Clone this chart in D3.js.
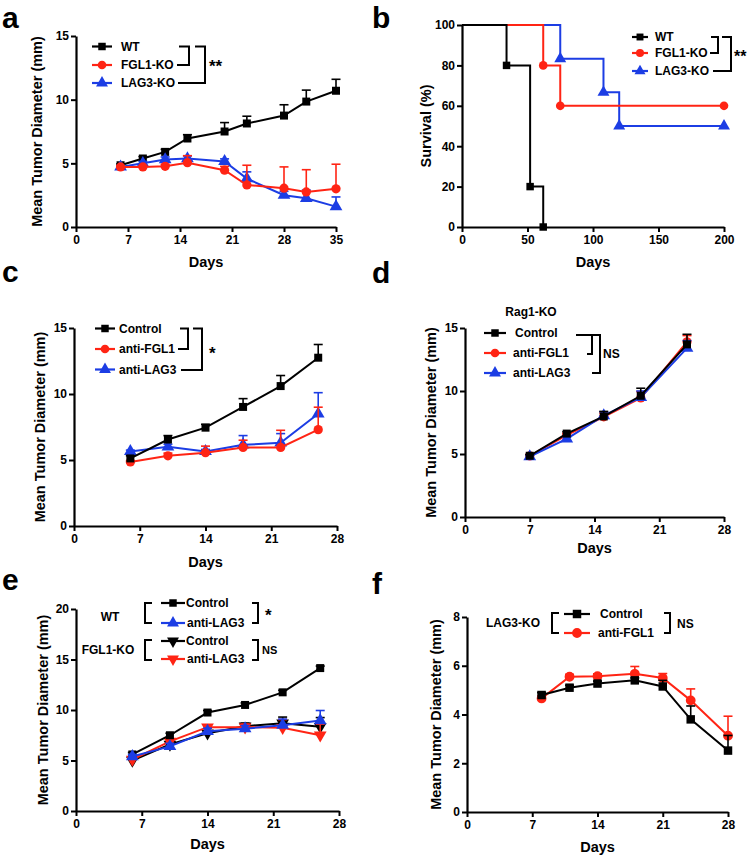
<!DOCTYPE html>
<html><head><meta charset="utf-8">
<script src="https://cdn.jsdelivr.net/npm/d3@7"></script>
<style>
body{margin:0;background:#fff}
svg{display:block}
text{font-family:'Liberation Sans',Arial,Helvetica,sans-serif;font-weight:bold;fill:#000}
</style></head>
<body><svg id="fig" width="750" height="856"></svg>
<script>
// ---------- DATA ----------
// Panel a
const aDays = [6, 9, 12, 15, 20, 23, 28, 31, 35];
const aWT = [4.85, 5.38, 5.9, 6.95, 7.5, 8.13, 8.75, 9.85, 10.7];
const aWTErr = [0.1, 0.15, 0.2, 0.3, 0.7, 0.57, 0.85, 0.9, 0.9];
const aFGL1 = [4.72, 4.72, 4.77, 5.05, 4.46, 3.3, 3.05, 2.75, 3.0];
const aFGL1Err = [0.1, 0.1, 0.15, 0.55, 0.3, 1.55, 1.67, 1.75, 1.93];
const aLAG3 = [4.72, 5.0, 5.3, 5.38, 5.15, 3.8, 2.5, 2.25, 1.6];
const aLAG3Err = [0.1, 0.15, 0.2, 0.2, 0.2, 0.53, 0.3, 0.65, 0.76];
const aLabels = ["WT", "FGL1-KO", "LAG3-KO"];
// Panel b (survival)
const bWTTimes = [0, 34, 52, 62];
const bWT = [100, 80, 20, 0];
const bFGL1Times = [0, 62, 75, 200];
const bFGL1 = [100, 80, 60, 60];
const bLAG3Times = [0, 75, 108, 120, 200];
const bLAG3 = [100, 83.3, 66.7, 50, 50];
// Panel c
const cDays = [6, 10, 14, 18, 22, 26];
const cControl = [5.12, 6.55, 7.45, 9.02, 10.6, 12.75];
const cControlErr = [0.2, 0.3, 0.25, 0.63, 0.8, 1.0];
const cFGL1 = [4.85, 5.32, 5.55, 5.95, 5.95, 7.3];
const cFGL1Err = [0.1, 0.2, 0.5, 0.55, 1.3, 1.7];
const cLAG3 = [5.65, 6.0, 5.65, 6.15, 6.3, 8.5];
const cLAG3Err = [0.1, 0.2, 0.15, 0.7, 0.7, 1.6];
const cLabels = ["Control", "anti-FGL1", "anti-LAG3"];
// Panel d
const dDays = [7, 11, 15, 19, 24];
const dControl = [4.86, 6.62, 7.98, 9.62, 13.7];
const dControlErr = [0.1, 0.15, 0.4, 0.6, 0.8];
const dFGL1 = [4.85, 6.5, 7.95, 9.45, 13.9];
const dFGL1Err = [0.1, 0.15, 0.3, 0.5, 0.5];
const dLAG3 = [4.8, 6.2, 8.05, 9.5, 13.4];
const dLAG3Err = [0.1, 0.15, 0.3, 0.5, 0.6];
// Panel e
const eDays = [6, 10, 14, 18, 22, 26];
const eWTControl = [5.6, 7.5, 9.75, 10.5, 11.75, 14.15];
const eWTControlErr = [0.2, 0.2, 0.2, 0.2, 0.2, 0.2];
const eWTLAG3 = [5.4, 6.4, 7.9, 8.15, 8.5, 8.95];
const eWTLAG3Err = [0.2, 0.3, 0.3, 0.3, 0.6, 1.0];
const eKOControl = [5.0, 6.6, 7.7, 8.4, 8.7, 8.35];
const eKOControlErr = [0.2, 0.2, 0.2, 0.3, 0.6, 0.9];
const eKOLAG3 = [5.1, 6.9, 8.3, 8.3, 8.25, 7.5];
const eKOLAG3Err = [0.2, 0.2, 0.2, 0.3, 0.8, 1.1];
// Panel f
const fDays = [8, 11, 14, 18, 21, 24, 28];
const fControl = [4.8, 5.1, 5.27, 5.4, 5.15, 3.8, 2.52];
const fControlErr = [0.1, 0.1, 0.1, 0.1, 0.25, 0.55, 0.62];
const fFGL1 = [4.66, 5.55, 5.57, 5.67, 5.5, 4.58, 3.13];
const fFGL1Err = [0.1, 0.1, 0.1, 0.3, 0.18, 0.47, 0.8];
// Ticks
const ticksDay28 = [0, 7, 14, 21, 28];
const ticksDay35 = [0, 7, 14, 21, 28, 35];
const ticksSurvDays = [0, 50, 100, 150, 200];
const ticksSurv = [0, 20, 40, 60, 80, 100];
const ticks15 = [0, 5, 10, 15];
const ticks20 = [0, 5, 10, 15, 20];
const ticks8 = [0, 2, 4, 6, 8];

// ---------- STYLE ----------
const BLACK = "#000000", RED = "#ff2414", BLUE = "#1c3de4";
const svg = d3.select("#fig");

function marker(sel, shape, color, size) {
  const s = size || 64;
  let type = d3.symbolSquare, rot = 0, sz = s;
  if (shape === "circle") { type = d3.symbolCircle; sz = s * 1.05; }
  if (shape === "tri") { type = d3.symbolTriangle; sz = s * 1.1; }
  if (shape === "down") { type = d3.symbolTriangle; sz = s * 1.1; rot = 180; }
  return sel.attr("d", d3.symbol(type, sz)()).attr("fill", color)
    .attr("data-rot", rot);
}

function drawPanel(o) {
  const g = svg.append("g");
  const x = d3.scaleLinear().domain(o.xd).range([o.L, o.R]);
  const y = d3.scaleLinear().domain(o.yd).range([o.B, o.T]);
  const xa = g.append("g").attr("transform", `translate(0,${o.B})`)
    .call(d3.axisBottom(x).tickValues(o.xt).tickSize(5).tickSizeOuter(0).tickPadding(3));
  const ya = g.append("g").attr("transform", `translate(${o.L},0)`)
    .call(d3.axisLeft(y).tickValues(o.yt).tickSize(5).tickSizeOuter(0).tickPadding(2));
  [xa, ya].forEach(a => {
    a.select(".domain").attr("stroke-width", 2.2).attr("stroke", "#000");
    a.selectAll(".tick line").attr("stroke-width", 2).attr("stroke", "#000");
    a.selectAll("text").attr("font-size", 12).attr("font-weight", "bold")
      .attr("font-family", "'Liberation Sans',Arial,sans-serif").attr("fill", "#000");
  });
  g.append("text").attr("transform", `translate(${o.ylx},${(o.T + o.B) / 2}) rotate(-90)`)
    .attr("text-anchor", "middle").attr("font-size", 14.5).text(o.ylab);
  g.append("text").attr("x", (o.L + o.R) / 2).attr("y", o.xly)
    .attr("text-anchor", "middle").attr("font-size", 14.5).text("Days");
  g.append("text").attr("x", o.lx).attr("y", o.ly).attr("font-size", 30).text(o.letter);
  return { g, x, y };
}

function series(p, days, vals, errs, color, shape, msize) {
  const pts = days.map((d, i) => ({ d, v: vals[i], e: errs ? errs[i] : 0 }));
  const g = p.g.append("g");
  g.append("path").datum(pts).attr("fill", "none").attr("stroke", color).attr("stroke-width", 2)
    .attr("d", d3.line().x(q => p.x(q.d)).y(q => p.y(q.v)));
  if (errs) {
    pts.forEach(q => {
      const xx = p.x(q.d), y0 = p.y(q.v), y1 = p.y(q.v + q.e);
      g.append("line").attr("x1", xx).attr("x2", xx).attr("y1", y0).attr("y2", y1)
        .attr("stroke", color).attr("stroke-width", 1.6);
      g.append("line").attr("x1", xx - 4.5).attr("x2", xx + 4.5).attr("y1", y1).attr("y2", y1)
        .attr("stroke", color).attr("stroke-width", 1.6);
    });
  }
  pts.forEach(q => {
    const m = g.append("path");
    marker(m, shape, color, msize);
    m.attr("transform", `translate(${p.x(q.d)},${p.y(q.v)}) rotate(${m.attr("data-rot")})`);
  });
}

function survival(p, times, vals, color, shape) {
  const pts = times.map((t, i) => ({ t, v: vals[i] }));
  const g = p.g.append("g");
  g.append("path").datum(pts).attr("fill", "none").attr("stroke", color).attr("stroke-width", 2)
    .attr("d", d3.line().curve(d3.curveStepAfter).x(q => p.x(q.t)).y(q => p.y(q.v)));
  pts.slice(1).forEach(q => {
    const m = g.append("path");
    marker(m, shape, color, 56);
    m.attr("transform", `translate(${p.x(q.t)},${p.y(q.v)})`);
  });
}

function legendRow(cx, cy, color, shape, label, tx, halfLen, msize, fs) {
  const hl = halfLen || 10;
  svg.append("line").attr("x1", cx - hl).attr("x2", cx + hl).attr("y1", cy).attr("y2", cy)
    .attr("stroke", color).attr("stroke-width", 2.2);
  const m = svg.append("path");
  marker(m, shape, color, msize || 56);
  m.attr("transform", `translate(${cx},${cy}) rotate(${m.attr("data-rot")})`);
  svg.append("text").attr("x", tx).attr("y", cy).attr("dy", "0.36em")
    .attr("font-size", fs || 12).text(label);
}
function bracket(d) {
  svg.append("path").attr("d", d).attr("fill", "none").attr("stroke", "#000").attr("stroke-width", 2);
}
function txt(x, y, s, fs, anchor) {
  svg.append("text").attr("x", x).attr("y", y).attr("font-size", fs)
    .attr("text-anchor", anchor || "start").text(s);
}

// ---------- PANEL a ----------
const pa = drawPanel({ L: 76, R: 336, T: 36, B: 227, xd: [0, 35], yd: [0, 15], xt: ticksDay35, yt: ticks15,
  ylab: "Mean Tumor Diameter (mm)", ylx: 42, xly: 267, letter: "a", lx: 2, ly: 28 });
series(pa, aDays, aWT, aWTErr, BLACK, "square");
series(pa, aDays, aLAG3, aLAG3Err, BLUE, "tri");
series(pa, aDays, aFGL1, aFGL1Err, RED, "circle");
legendRow(102, 46.5, BLACK, "square", aLabels[0], 121);
legendRow(102, 65, RED, "circle", aLabels[1], 121);
legendRow(102, 83, BLUE, "tri", aLabels[2], 121);
bracket("M179,46.5 H189 V65 H177");
bracket("M195,46.5 H205 V83 H178");
txt(209, 72, "**", 17);

// ---------- PANEL b ----------
const pb = drawPanel({ L: 462, R: 724, T: 25, B: 227, xd: [0, 200], yd: [0, 100], xt: ticksSurvDays, yt: ticksSurv,
  ylab: "Survival (%)", ylx: 431, xly: 267, letter: "b", lx: 372, ly: 28 });
survival(pb, bLAG3Times, bLAG3, BLUE, "tri");
survival(pb, bFGL1Times, bFGL1, RED, "circle");
survival(pb, bWTTimes, bWT, BLACK, "square");
legendRow(640, 37, BLACK, "square", aLabels[0], 655, 8, 48);
legendRow(640, 53, RED, "circle", aLabels[1], 655, 8, 48);
legendRow(640, 71, BLUE, "tri", aLabels[2], 655, 8, 48);
bracket("M711,37 H718 V53 H710");
bracket("M722,37 H731 V71 H713");
txt(734, 62, "**", 16);

// ---------- PANEL c ----------
const pc = drawPanel({ L: 74, R: 337, T: 328, B: 526, xd: [0, 28], yd: [0, 15], xt: ticksDay28, yt: ticks15,
  ylab: "Mean Tumor Diameter (mm)", ylx: 45, xly: 567, letter: "c", lx: 2, ly: 282 });
series(pc, cDays, cLAG3, cLAG3Err, BLUE, "tri");
series(pc, cDays, cFGL1, cFGL1Err, RED, "circle");
series(pc, cDays, cControl, cControlErr, BLACK, "square");
legendRow(105, 328.5, BLACK, "square", cLabels[0], 119);
legendRow(105, 349, RED, "circle", cLabels[1], 119);
legendRow(105, 369.5, BLUE, "tri", cLabels[2], 119);
bracket("M180,328.5 H188 V349 H178");
bracket("M193,328.5 H202 V370 H181");
txt(209, 359, "*", 17);

// ---------- PANEL d ----------
const pd = drawPanel({ L: 465, R: 724, T: 328, B: 517, xd: [0, 28], yd: [0, 15], xt: ticksDay28, yt: ticks15,
  ylab: "Mean Tumor Diameter (mm)", ylx: 436, xly: 553, letter: "d", lx: 372, ly: 283 });
series(pd, dDays, dFGL1, dFGL1Err, RED, "circle");
series(pd, dDays, dLAG3, dLAG3Err, BLUE, "tri");
series(pd, dDays, dControl, dControlErr, BLACK, "square");
txt(531, 316, "Rag1-KO", 12, "middle");
legendRow(495, 333, BLACK, "square", cLabels[0], 515, 11);
legendRow(495, 353, RED, "circle", cLabels[1], 513, 11);
legendRow(495, 373, BLUE, "tri", cLabels[2], 513, 11);
bracket("M576,335 H592 V354 H587");
bracket("M593,335 H600 V373 H592");
txt(603, 358, "NS", 12);

// ---------- PANEL e ----------
const pe = drawPanel({ L: 76, R: 339, T: 609, B: 811, xd: [0, 28], yd: [0, 20], xt: ticksDay28, yt: ticks20,
  ylab: "Mean Tumor Diameter (mm)", ylx: 48, xly: 849, letter: "e", lx: 2, ly: 590 });
series(pe, eDays, eKOControl, eKOControlErr, BLACK, "down");
series(pe, eDays, eKOLAG3, eKOLAG3Err, RED, "down");
series(pe, eDays, eWTControl, eWTControlErr, BLACK, "square");
series(pe, eDays, eWTLAG3, eWTLAG3Err, BLUE, "tri");
txt(110, 621, "WT", 12, "middle");
txt(108, 654, "FGL1-KO", 12, "middle");
bracket("M152,603 H145 V623 H152");
bracket("M152,640 H145 V660 H152");
legendRow(173, 603, BLACK, "square", cLabels[0], 186, 12);
legendRow(173, 623, BLUE, "tri", cLabels[2], 187, 12);
legendRow(173, 641, BLACK, "down", cLabels[0], 186, 12);
legendRow(173, 659, RED, "down", cLabels[2], 187, 12);
bracket("M252,603 H258 V623 H252");
bracket("M252,640 H258 V660 H252");
txt(265, 621, "*", 17);
txt(262, 654, "NS", 11);

// ---------- PANEL f ----------
const pf = drawPanel({ L: 467, R: 728, T: 617, B: 812, xd: [0, 28], yd: [0, 8], xt: ticksDay28, yt: ticks8,
  ylab: "Mean Tumor Diameter (mm)", ylx: 441, xly: 852, letter: "f", lx: 372, ly: 594 });
series(pf, fDays, fFGL1, fFGL1Err, RED, "circle", 72);
series(pf, fDays, fControl, fControlErr, BLACK, "square", 72);
txt(513, 627, "LAG3-KO", 12, "middle");
bracket("M559,613 H552 V633 H559");
legendRow(577, 614, BLACK, "square", cLabels[0], 600, 13, 72);
legendRow(577, 633, RED, "circle", "anti-FGL1", 598, 13, 72);
bracket("M664,613 H670 V633 H664");
txt(677, 628, "NS", 12);
</script></body></html>
